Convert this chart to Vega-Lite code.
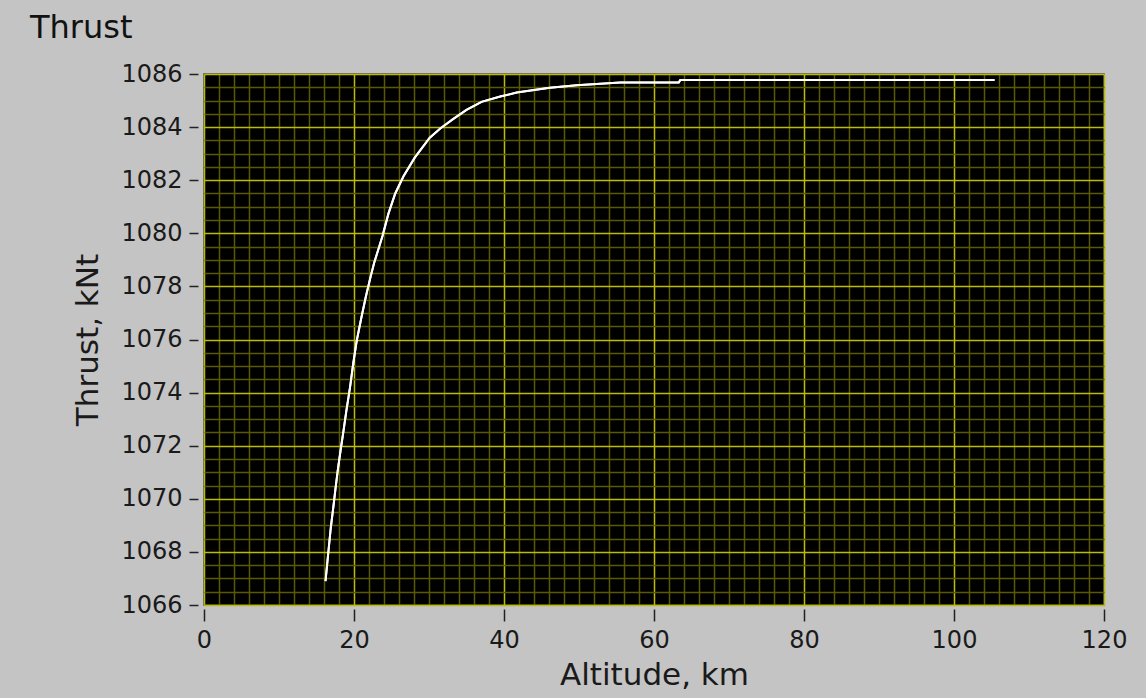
{
  "$schema": "https://vega.github.io/schema/vega-lite/v6.json",
  "width": 900,
  "height": 531,
  "autosize": {"type": "none"},
  "padding": {"left": 204, "top": 74, "right": 42, "bottom": 93},
  "background": "#c4c4c4",
  "title": {
    "text": "Thrust",
    "anchor": "start",
    "frame": "group",
    "font": "DejaVu Sans",
    "fontSize": 32,
    "fontWeight": "normal",
    "color": "#111111",
    "offset": 17,
    "dx": -174
  },
  "config": {
    "view": {"fill": "#000000", "stroke": "#444444", "strokeWidth": 1.5},
    "axis": {
      "labelFont": "DejaVu Sans",
      "titleFont": "DejaVu Sans",
      "labelFontSize": 24,
      "titleFontSize": 31,
      "titleFontWeight": "normal",
      "labelColor": "#1a1a1a",
      "titleColor": "#1a1a1a",
      "tickColor": "#222222",
      "labelFlush": false,
      "domain": false,
      "gridOpacity": 1
    }
  },
  "data": {
    "values": [
      {"alt": 16.2, "thrust": 1066.9},
      {"alt": 16.6, "thrust": 1068.05},
      {"alt": 16.9, "thrust": 1068.9},
      {"alt": 17.25, "thrust": 1069.7},
      {"alt": 17.56, "thrust": 1070.45},
      {"alt": 17.87, "thrust": 1071.15},
      {"alt": 18.2, "thrust": 1071.8},
      {"alt": 18.57, "thrust": 1072.5},
      {"alt": 19.0, "thrust": 1073.35},
      {"alt": 19.47, "thrust": 1074.2},
      {"alt": 19.9, "thrust": 1075.1},
      {"alt": 20.36, "thrust": 1075.95},
      {"alt": 21.0, "thrust": 1076.85},
      {"alt": 21.57, "thrust": 1077.6},
      {"alt": 22.2, "thrust": 1078.35},
      {"alt": 22.7, "thrust": 1078.9},
      {"alt": 23.2, "thrust": 1079.35},
      {"alt": 23.8, "thrust": 1079.9},
      {"alt": 24.6, "thrust": 1080.75},
      {"alt": 25.5, "thrust": 1081.5},
      {"alt": 26.6, "thrust": 1082.15},
      {"alt": 28.1, "thrust": 1082.85},
      {"alt": 30.1, "thrust": 1083.6},
      {"alt": 31.5, "thrust": 1083.95},
      {"alt": 33.2, "thrust": 1084.3},
      {"alt": 35.0, "thrust": 1084.65},
      {"alt": 37.0, "thrust": 1084.95},
      {"alt": 39.5, "thrust": 1085.15},
      {"alt": 41.7, "thrust": 1085.3},
      {"alt": 44.0, "thrust": 1085.4},
      {"alt": 46.1, "thrust": 1085.48},
      {"alt": 49.7, "thrust": 1085.58},
      {"alt": 55.5, "thrust": 1085.68},
      {"alt": 63.3, "thrust": 1085.68},
      {"alt": 63.5, "thrust": 1085.77},
      {"alt": 105.4, "thrust": 1085.77}
    ]
  },
  "resolve": {"axis": {"x": "independent", "y": "independent"}},
  "layer": [
    {
      "mark": {"type": "line", "color": "#ffffff", "strokeWidth": 2},
      "encoding": {
        "x": {
          "field": "alt", "type": "quantitative",
          "scale": {"domain": [0, 120], "nice": false, "zero": false},
          "axis": {
            "orient": "top", "labels": false, "ticks": false, "title": null,
            "grid": true, "gridColor": "#5a5a00", "gridWidth": 1.5,
            "values": [2,4,6,8,10,12,14,16,18,22,24,26,28,30,32,34,36,38,42,44,46,48,50,52,54,56,58,62,64,66,68,70,72,74,76,78,82,84,86,88,90,92,94,96,98,102,104,106,108,110,112,114,116,118]
          }
        },
        "y": {
          "field": "thrust", "type": "quantitative",
          "scale": {"domain": [1066, 1086], "nice": false, "zero": false},
          "axis": {
            "orient": "right", "labels": false, "ticks": false, "title": null,
            "grid": true, "gridColor": "#5a5a00", "gridWidth": 1.5,
            "values": [1066.5,1067,1067.5,1068.5,1069,1069.5,1070.5,1071,1071.5,1072.5,1073,1073.5,1074.5,1075,1075.5,1076.5,1077,1077.5,1078.5,1079,1079.5,1080.5,1081,1081.5,1082.5,1083,1083.5,1084.5,1085,1085.5]
          }
        }
      }
    },
    {
      "mark": {"type": "line", "color": "#ffffff", "strokeWidth": 2},
      "encoding": {
        "x": {
          "field": "alt", "type": "quantitative",
          "scale": {"domain": [0, 120], "nice": false, "zero": false},
          "axis": {
            "orient": "bottom", "title": "Altitude, km", "format": "d",
            "values": [0, 20, 40, 60, 80, 100, 120],
            "grid": true, "gridColor": "#bcbc00", "gridWidth": 1.5,
            "offset": 4, "tickSize": 12, "tickWidth": 1.5, "labelPadding": 7,
            "titlePadding": 8
          }
        },
        "y": {
          "field": "thrust", "type": "quantitative",
          "scale": {"domain": [1066, 1086], "nice": false, "zero": false},
          "axis": {
            "orient": "left", "title": "Thrust, kNt", "format": "d",
            "values": [1066, 1068, 1070, 1072, 1074, 1076, 1078, 1080, 1082, 1084, 1086],
            "grid": true, "gridColor": "#bcbc00", "gridWidth": 1.5,
            "offset": 6, "tickSize": 9, "tickWidth": 1.5, "labelPadding": 7,
            "titlePadding": 16
          }
        }
      }
    }
  ]
}
